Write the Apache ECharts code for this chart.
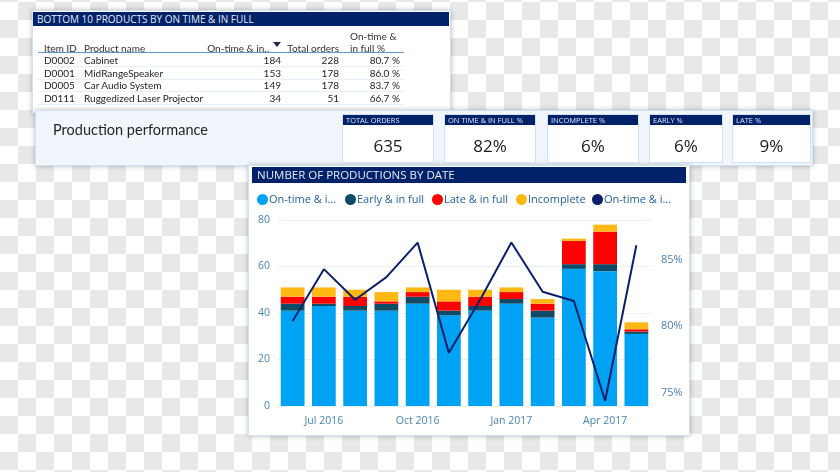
<!DOCTYPE html>
<html>
<head>
<meta charset="utf-8">
<script src="https://cdn.jsdelivr.net/npm/echarts@6/dist/echarts.min.js"></script>
<style>
  html, body { margin:0; padding:0; }
  body { width:840px; height:472px; position:relative; overflow:hidden;
    font-family:'Lato','Open Sans',sans-serif;
    background: repeating-conic-gradient(#e8e8e8 0 25%, #ffffff 0 50%);
    background-size:36px 36px; background-position:0 2px; }
  .panel { position:absolute; background:#fff; box-shadow:0 0 5px rgba(0,0,0,0.28); border:1px solid #cfe3f5; box-sizing:border-box; }
  .hdr { position:absolute; background:#012169; color:#e4ecfb; white-space:nowrap; box-sizing:border-box; font-family:'Open Sans',sans-serif; }
  .t { position:absolute; white-space:nowrap; color:#252423; font-size:10px; line-height:12px; }
  .r { text-align:right; }
  .card { position:absolute; background:#fff; border:1px solid #cfe2f3; box-sizing:border-box; }
  .card .h { background:#012169; color:#dfe8fb; font-size:7.5px; line-height:10px; height:10px; padding-left:3px; white-space:nowrap; font-family:'Open Sans',sans-serif; }
  .card .v { position:absolute; left:0; right:0; top:19px; text-align:center; font-size:17px; color:#1a1a1a; font-family:'Open Sans',sans-serif; }
</style>
</head>
<body>
<div id="tablePanel" class="panel" style="left:32px;top:10px;width:419px;height:104px;"></div>
<div id="perfPanel" class="panel" style="left:35px;top:110px;width:778px;height:56px;background:#f1f6fc;"></div>
<div id="chartPanel" class="panel" style="left:248px;top:165px;width:442px;height:271px;"></div>
<div id="chart" style="position:absolute;left:250px;top:165px;width:440px;height:271px;"></div>
<div id="overlay"></div>
<script>
// ---- table data ----
const tableTitle = 'BOTTOM 10 PRODUCTS BY ON TIME & IN FULL';
const itemIds = ['D0002','D0001','D0005','D0111'];
const productNames = ['Cabinet','MidRangeSpeaker','Car Audio System','Ruggedized Laser Projector'];
const onTimeInFullCounts = [184,153,149,34];
const totalOrders = [228,178,178,51];
const onTimeInFullPct = ['80.7 %','86.0 %','83.7 %','66.7 %'];
// ---- KPI data ----
const kpiLabels = ['TOTAL ORDERS','ON TIME & IN FULL %','INCOMPLETE %','EARLY %','LATE %'];
const kpiValues = ['635','82%','6%','6%','9%'];
// ---- chart data ----
const chartTitle = 'NUMBER OF PRODUCTIONS BY DATE';
const months = ['Jun 2016','Jul 2016','Aug 2016','Sep 2016','Oct 2016','Nov 2016','Dec 2016','Jan 2017','Feb 2017','Mar 2017','Apr 2017','May 2017'];
const onTimeInFull = [41,43,41,41,44,39,41,44,38,59,58,31];
const earlyInFull  = [3,1,2,3,3,2,2,2,3,2,3,1];
const lateInFull   = [3,3,4,1,2,4,4,3,3,10,14,1];
const incomplete   = [4,4,3,4,2,5,3,2,2,1,3,3];
const onTimePct    = [80.4,84.3,82.0,83.7,86.3,78.0,82.0,86.3,82.6,81.9,74.4,86.1];
const leftTicks = [0,20,40,60,80];
const rightTicks = [75,80,85];
const seriesNames = ['On-time & in full','Early & in full','Late & in full','Incomplete','On-time & in full %'];
const legendShort = ['On-time & i...','Early & in full','Late & in full','Incomplete','On-time & i...'];
const seriesColors = ['#00a2f3','#0d4b66','#fe0000','#fdb813','#0c1f6b'];

// ---- build HTML panels ----
const ov = document.getElementById('overlay');
function add(html){ ov.insertAdjacentHTML('beforeend', html); }
// table header bar
add(`<div class="hdr" style="left:33px;top:12px;width:416px;height:14px;font-size:10px;line-height:14px;padding-left:4px;">${tableTitle}</div>`);
// column headers
add(`<div class="t" style="left:44px;top:42px;color:#333;">Item ID</div>`);
add(`<div class="t" style="left:84px;top:42px;color:#333;">Product name</div>`);
add(`<div class="t r" style="left:190px;width:79px;top:42px;color:#333;">On-time &amp; in..</div>`);
add(`<div style="position:absolute;left:273px;top:42px;width:0;height:0;border-left:4px solid transparent;border-right:4px solid transparent;border-top:5px solid #1f2a44;"></div>`);
add(`<div class="t r" style="left:280px;width:59px;top:42px;color:#333;">Total orders</div>`);
add(`<div class="t" style="left:350px;top:30px;color:#333;">On-time &amp;</div>`);
add(`<div class="t" style="left:350px;top:42px;color:#333;">in full %</div>`);
add(`<div style="position:absolute;left:38px;top:52px;width:366px;height:1px;background:#5b9bd5;"></div>`);
const rowY = [54,66.5,79,91.5];
for (let i=0;i<itemIds.length;i++){
  const y=rowY[i];
  add(`<div class="t" style="left:44px;top:${y}px;">${itemIds[i]}</div>`);
  add(`<div class="t" style="left:84px;top:${y}px;">${productNames[i]}</div>`);
  add(`<div class="t r" style="left:230px;width:51px;top:${y}px;">${onTimeInFullCounts[i]}</div>`);
  add(`<div class="t r" style="left:290px;width:49px;top:${y}px;">${totalOrders[i]}</div>`);
  add(`<div class="t r" style="left:340px;width:60px;top:${y}px;">${onTimeInFullPct[i]}</div>`);
  add(`<div style="position:absolute;left:38px;top:${y+12}px;width:366px;height:1px;background:#e6eef7;"></div>`);
}
// production performance
add(`<div class="t" style="left:53px;top:121px;font-size:14.5px;line-height:18px;color:#252525;">Production performance</div>`);
// KPI cards
const cardX = [342,444,547,649,732];
const cardW = [92,92,92,74,79];
for (let i=0;i<kpiLabels.length;i++){
  add(`<div class="card" style="left:${cardX[i]}px;top:114px;width:${cardW[i]}px;height:49px;"><div class="h">${kpiLabels[i]}</div><div class="v">${kpiValues[i]}</div></div>`);
}
// chart header
add(`<div class="hdr" style="left:252px;top:167px;width:434px;height:16px;font-size:11.5px;line-height:16px;padding-left:5px;">${chartTitle}</div>`);

// ---- ECharts ----
const chart = echarts.init(document.getElementById('chart'));
const legendLefts = [7,95,182,266,342];
const legends = seriesNames.map((n,i)=>({
  data:[{name:n, icon:'circle'}], left:legendLefts[i], top:29, padding:0,
  itemWidth:11, itemHeight:11, itemGap:0,
  formatter:()=>legendShort[i],
  textStyle:{color:'#1f5f9f', fontSize:11, fontFamily:'Open Sans', padding:[0,0,0,-4]},
  selectedMode:false
}));
const barSeries = [onTimeInFull, earlyInFull, lateInFull, incomplete].map((d,i)=>({
  name: seriesNames[i], type:'bar', stack:'total', data:d, barCategoryGap:'24%',
  itemStyle:{color:seriesColors[i]}, yAxisIndex:0
}));
chart.setOption({
  animation:false,
  textStyle:{fontFamily:'Open Sans'},
  legend: legends,
  grid:{left:27, right:38, top:55, bottom:30},
  xAxis:{type:'category', data:months,
    axisLine:{show:false}, axisTick:{show:false},
    axisLabel:{interval:(idx)=>idx%3===1, color:'#4a84b3', fontSize:10.5, margin:10}},
  yAxis:[
    {type:'value', min:leftTicks[0], max:leftTicks[leftTicks.length-1], interval:20,
     axisLabel:{color:'#4a84b3', fontSize:10.5, margin:7},
     splitLine:{lineStyle:{color:'#eaf0f6'}}, axisLine:{show:false}, axisTick:{show:false}},
    {type:'value', min:74, max:88, interval:1, position:'right',
     axisLabel:{color:'#4a84b3', fontSize:11, margin:9,
       formatter:(v)=> rightTicks.includes(Math.round(v)) && Math.abs(v-Math.round(v))<1e-6 ? v+'%' : ''},
     splitLine:{show:false}, axisLine:{show:false}, axisTick:{show:false}}
  ],
  series:[...barSeries, {
    name:seriesNames[4], type:'line', yAxisIndex:1, data:onTimePct,
    symbol:'none', lineStyle:{color:seriesColors[4], width:2}, itemStyle:{color:seriesColors[4]}
  }]
});
</script>
</body>
</html>
